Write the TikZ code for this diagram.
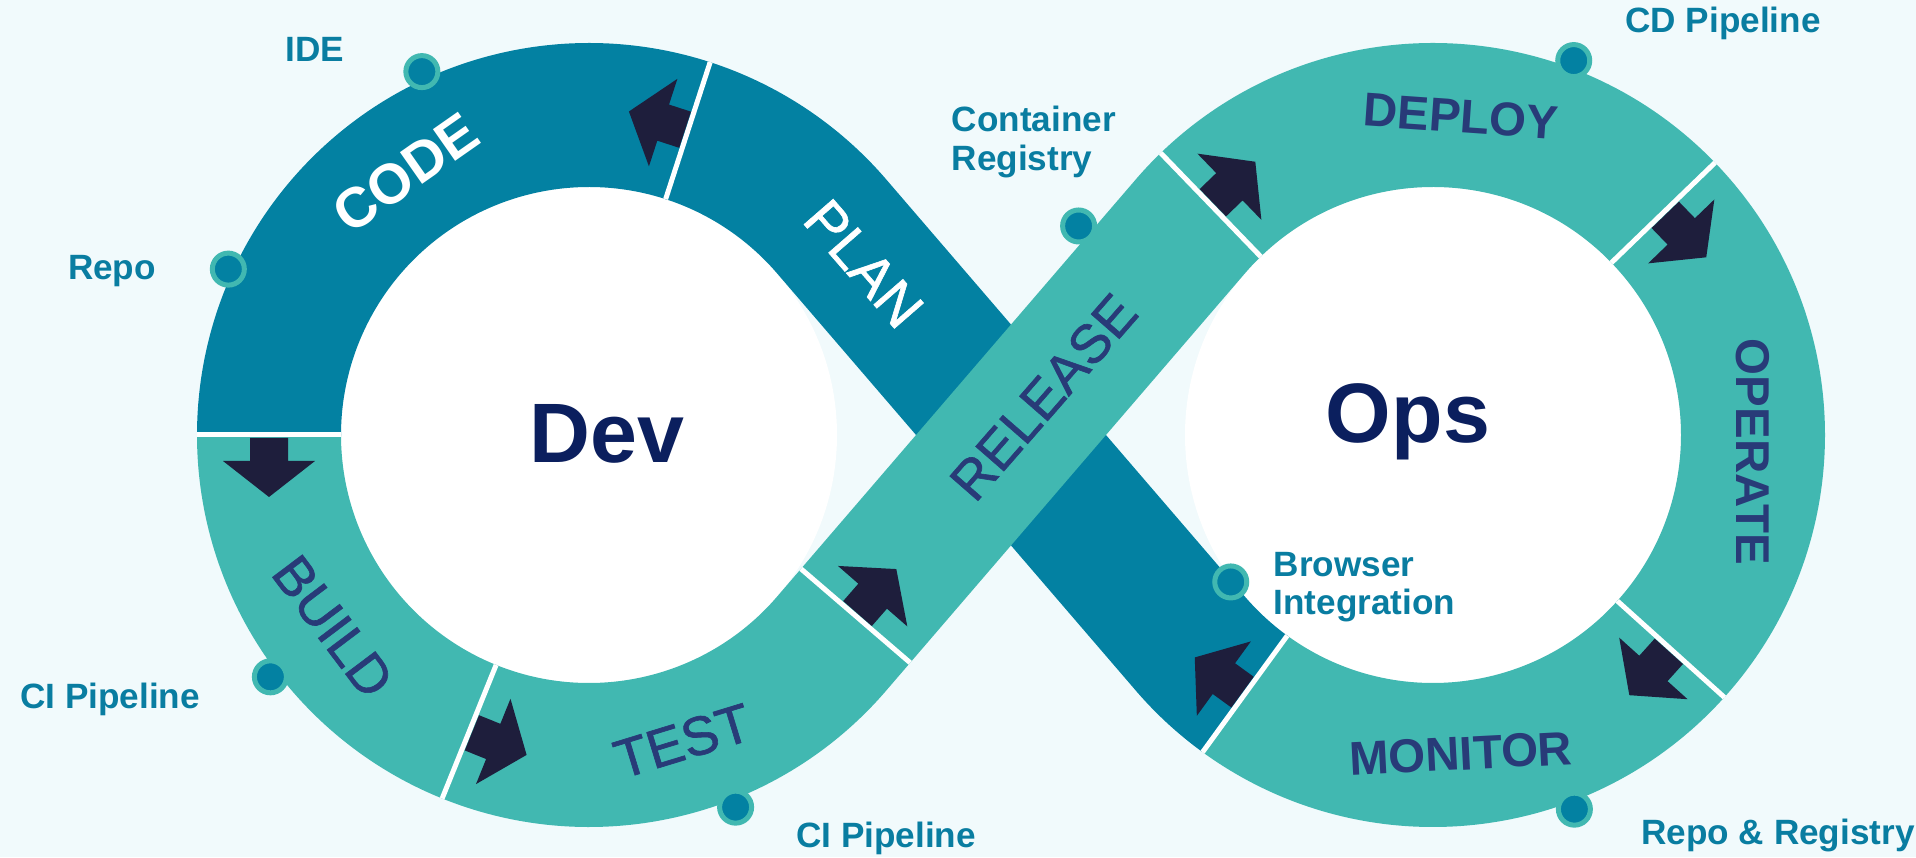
\documentclass[tikz,border=0pt]{standalone}
\usepackage{fontspec}
\setmainfont{Liberation Sans}
\newfontfamily\medfont[FakeBold=1.1]{Liberation Sans}
\usetikzlibrary{calc,positioning}

\definecolor{devblue}{HTML}{0381A2}
\definecolor{opsteal}{HTML}{41B8B1}
\definecolor{arrowc}{HTML}{1E1E3C}
\definecolor{stagetxt}{HTML}{283B78}
\definecolor{bigtxt}{HTML}{0B1F5E}
\definecolor{tooltxt}{HTML}{097DA1}
\definecolor{bgc}{HTML}{F1FAFC}

\newcommand{\loopr}{3.2}
\newcommand{\bandw}{1.44}
\newcommand{\ringin}{2.48}
\newcommand{\ringout}{3.92}

\tikzset{
    flowarrow/.pic={
        \fill[arrowc] (0.03,-0.19) -- (0.26,-0.19) -- (0.26,-0.46) -- (0.62,0)
            -- (0.26,0.46) -- (0.26,0.19) -- (0.03,0.19) -- cycle;
    }
}

\begin{document}
\begin{tikzpicture}[
        band/.style={line width=\bandw cm},
        sep/.style={white, line width=0.05cm},
        stagew/.style={text=white, font=\medfont\fontsize{16}{16}\selectfont},
        stagen/.style={text=stagetxt, font=\medfont\fontsize{15.5}{16}\selectfont},
        stageb/.style={text=stagetxt, font=\bfseries\fontsize{13.5}{14}\selectfont},
        bigname/.style={text=bigtxt, font=\bfseries\fontsize{24}{24}\selectfont},
        tooldot/.style={circle, fill=devblue, draw=opsteal, line width=0.05cm,
            minimum size=0.32cm, inner sep=0pt},
        toollbl/.style={text=tooltxt, font=\bfseries\fontsize{10}{11}\selectfont,
            align=left, inner sep=0pt}
    ]
    \fill[bgc] (0,0) rectangle (19.16,8.57);
    \useasboundingbox (0,0) rectangle (19.16,8.57);

    % loop centres and tangent points
    \coordinate (C1) at (5.89,4.22);
    \coordinate (C2) at (14.33,4.22);
    \coordinate (L1) at ($(C1)+(41.1:\loopr)$);
    \coordinate (L2) at ($(C1)+(-41.1:\loopr)$);
    \coordinate (R1) at ($(C2)+(138.9:\loopr)$);
    \coordinate (R2) at ($(C2)+(221.1:\loopr)$);
    \coordinate (TR) at ($(L2)!0.39cm!(R1)$);

    \fill[white] (C1) circle[radius=\ringin];
    \fill[white] (C2) circle[radius=\ringin];

    % stages
    \draw[band, devblue] ($(C2)+(234:\loopr)$) arc[start angle=234, end angle=221.1, radius=\loopr]
        -- (L1) arc[start angle=41.1, end angle=72, radius=\loopr];
    \draw[band, devblue] ($(C1)+(72:\loopr)$) arc[start angle=72, end angle=180, radius=\loopr];
    \draw[band, opsteal] ($(C1)+(180:\loopr)$) arc[start angle=180, end angle=248, radius=\loopr];
    \draw[band, opsteal] ($(C1)+(248:\loopr)$) arc[start angle=248, end angle=318.9, radius=\loopr] -- (TR);
    \draw[band, opsteal] ($(C2)+(134:\loopr)$) arc[start angle=134, end angle=44, radius=\loopr];
    \draw[band, opsteal] ($(C2)+(44:\loopr)$) arc[start angle=44, end angle=-42, radius=\loopr];
    \draw[band, opsteal] ($(C2)+(-42:\loopr)$) arc[start angle=-42, end angle=-126, radius=\loopr];
    \draw[band, opsteal] (TR) -- (R1) arc[start angle=138.9, end angle=134, radius=\loopr];

    % separators
    \foreach \a in {72,180,248}
        \draw[sep] ($(C1)+(\a:\ringin)$) -- ($(C1)+(\a:\ringout)$);
    \foreach \a in {134,44,-42,234}
        \draw[sep] ($(C2)+(\a:\ringin)$) -- ($(C2)+(\a:\ringout)$);
    \draw[sep] ($(TR)!0.72cm!90:(R1)$) -- ($(TR)!0.72cm!-90:(R1)$);

    % flow arrows
    \pic[rotate=162] at ($(C1)+(72:\loopr)$) {flowarrow};
    \pic[rotate=270] at ($(C1)+(180:\loopr)$) {flowarrow};
    \pic[rotate=338] at ($(C1)+(248:\loopr)$) {flowarrow};
    \pic[rotate=48.9] at (TR) {flowarrow};
    \pic[rotate=44] at ($(C2)+(134:\loopr)$) {flowarrow};
    \pic[rotate=-46] at ($(C2)+(44:\loopr)$) {flowarrow};
    \pic[rotate=-132] at ($(C2)+(-42:\loopr)$) {flowarrow};
    \pic[rotate=144] at ($(C2)+(234:\loopr)$) {flowarrow};

    % stage names
    \node[stagew, font=\bfseries\fontsize{16}{16}\selectfont, rotate=35] (code) at ($(C1)+(125:\loopr)$) {CODE};
    \node[stagew, rotate=-49] (plan) at ($(R2)!0.907!(L1)$) {PLAN};
    \node[stagen, rotate=-53] (build) at ($(C1)+(216.8:\loopr)$) {BUILD};
    \node[stagen, rotate=17] (test) at ($(C1)+(-73:\loopr)$) {TEST};
    \node[stagen, rotate=48.9] (release) at ($(L2)!0.59!(R1)$) {RELEASE};
    \node[stageb, rotate=-4] (deploy) at ($(C2)+(85:\loopr)$) {DEPLOY};
    \node[stageb, rotate=-90] (operate) at ($(C2)+(-3:\loopr)$) {OPERATE};
    \node[stageb, rotate=3] (monitor) at ($(C2)+(-85:\loopr)$) {MONITOR};

    \node[bigname] (dev) at (6.07,4.23) {Dev};
    \node[bigname] (ops) at (14.08,4.35) {Ops};

    % tools
    \node[tooldot] (ide) at ($(C1)+(114.7:4.0)$) {};
    \node[tooldot] (repo) at ($(C1)+(155.3:3.97)$) {};
    \node[tooldot] (ci1) at ($(C1)+(217.2:4.0)$) {};
    \node[tooldot] (ci2) at ($(C1)+(291.5:4.0)$) {};
    \node[tooldot] (creg) at ($($(L2)!0.864!(R1)$)+(138.9:0.85)$) {};
    \node[tooldot] (cd) at ($(C2)+(69.4:4.0)$) {};
    \node[tooldot] (brow) at ($(C2)+(216:2.5)$) {};
    \node[tooldot] (reg) at ($(C2)+(-69.3:4.0)$) {};

    \node[toollbl] (idel) at (3.15,8.08) {IDE};
    \node[toollbl] (repol) at (1.12,5.86) {Repo};
    \node[toollbl] (ci1l) at (1.10,1.58) {CI Pipeline};
    \node[toollbl] (ci2l) at (8.86,0.19) {CI Pipeline};
    \node[toollbl, anchor=west] (cregl) at (9.51,7.15) {Container\\Registry};
    \node[toollbl] (cdl) at (17.23,8.34) {CD Pipeline};
    \node[toollbl, anchor=west] (browl) at (12.73,2.70) {Browser\\Integration};
    \node[toollbl] (regl) at (17.78,0.22) {Repo \& Registry};
\end{tikzpicture}
\end{document}
